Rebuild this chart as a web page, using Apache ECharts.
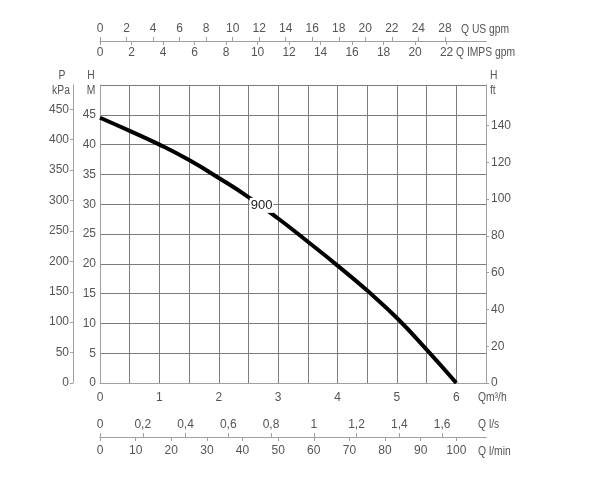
<!DOCTYPE html>
<html>
<head>
<meta charset="utf-8">
<script src="https://cdn.jsdelivr.net/npm/echarts@6/dist/echarts.min.js"></script>
<style>
  html, body { margin: 0; padding: 0; background: #fff; }
  #main { width: 592px; height: 480px; }
</style>
</head>
<body>
<div id="main"></div>
<script>
// 曲线数据 (Q m3/h -> H m)
var flow = [0, 0.5, 1, 1.5, 2, 2.5, 3, 3.5, 4, 4.5, 5, 5.5, 6];
var head = [44.5, 42.3, 40.0, 37.4, 34.4, 31.2, 27.6, 23.7, 19.7, 15.5, 10.9, 5.6, 0];
var curveName = '900';
var curveLabelAt = [2.72, 29.8];

// 刻度
var usGpmTicks = [0, 2, 4, 6, 8, 10, 12, 14, 16, 18, 20, 22, 24, 26];
var usGpmLabels = ['0', '2', '4', '6', '8', '10', '12', '14', '16', '18', '20', '22', '24', '28'];
var impGpmTicks = [0, 2, 4, 6, 8, 10, 12, 14, 16, 18, 20, 22];
var lsTicks = [0, 0.2, 0.4, 0.6, 0.8, 1, 1.2, 1.4, 1.6];
var lsLabels = ['0', '0,2', '0,4', '0,6', '0,8', '1', '1,2', '1,4', '1,6'];
var lminTicks = [0, 10, 20, 30, 40, 50, 60, 70, 80, 90, 100];
var ftTicks = [0, 20, 40, 60, 80, 100, 120, 140];

// 各单位刻度范围 (对应 0 ~ 6.5 m3/h, 0 ~ 50 m)
var qMax = 6.5, hMax = 50, kpaMax = 490, ftMax = 162;
var usMax = 29.1, impMax = 24.5, lsMax = 6.5 / 3.6, lminMax = 6.5 / 0.06;

var font = "'Liberation Sans', Arial, sans-serif";
var txt = '#555';
var gridColor = '#7c7c7c';
var lineColor = '#a0a0a0';

function pairs(a, b) {
    var out = [];
    for (var i = 0; i < a.length; i++) out.push([a[i], b[i]]);
    return out;
}

function lbl(extra) {
    var o = { color: txt, fontFamily: font, fontSize: 12 };
    for (var k in extra) o[k] = extra[k];
    return o;
}

function pick(ticks, labels) {
    return function(v) {
        for (var i = 0; i < ticks.length; i++) {
            if (Math.abs(ticks[i] - v) < 1e-6) return labels ? labels[i] : String(ticks[i]);
        }
        return '';
    };
}

// 副坐标轴 (只画线、刻度、文字)
function sideAxis(pos, offset, max, ticks, labels, inside, margin, tickLen) {
    return {
        type: 'value', position: pos, offset: offset, min: 0, max: max,
        axisLine: { show: true, onZero: false, lineStyle: { color: lineColor } },
        axisTick: { show: true, inside: inside, length: tickLen, customValues: ticks, lineStyle: { color: lineColor } },
        axisLabel: lbl({ inside: inside, margin: margin, customValues: ticks, formatter: pick(ticks, labels) }),
        splitLine: { show: false }
    };
}

// 单位文字 (窄体)
function unitText(x, y, text, align) {
    return {
        type: 'text', x: x, y: y, z: 20, scaleX: 0.86,
        style: { text: text, fill: txt, font: '12px ' + font, textAlign: align || 'left', textVerticalAlign: 'middle' }
    };
}

var chart = echarts.init(document.getElementById('main'));
var option = {
    backgroundColor: '#fff',
    animation: false,
    grid: { left: 100, right: 106, top: 85, bottom: 97, outerBoundsMode: 'none' },
    xAxis: [{
        // Q m3/h
        type: 'value', position: 'bottom', min: 0, max: qMax, interval: 0.5,
        axisLine: { onZero: false, lineStyle: { color: lineColor } },
        axisTick: { show: false },
        axisLabel: lbl({ margin: 9, formatter: function(v) { return v % 1 === 0 ? v : ''; } }),
        splitLine: { show: true, lineStyle: { color: gridColor, width: 1 } }
    },
        sideAxis('top', 44, usMax, usGpmTicks, usGpmLabels, false, 6, 4),
        sideAxis('top', 44, impMax, impGpmTicks, null, true, 6, 4),
        sideAxis('bottom', 54, lsMax, lsTicks, lsLabels, true, 6, 4),
        sideAxis('bottom', 54, lminMax, lminTicks, null, false, 8, 4)
    ],
    yAxis: [{
        // H m
        type: 'value', position: 'left', min: 0, max: hMax, interval: 5,
        axisLine: { show: true, onZero: false, lineStyle: { color: lineColor } },
        axisTick: { show: false },
        axisLabel: lbl({ margin: 4, showMaxLabel: false }),
        splitLine: { show: true, lineStyle: { color: gridColor, width: 1 } }
    }, {
        // P kPa
        type: 'value', position: 'left', offset: 27, min: 0, max: kpaMax, interval: 50,
        axisLine: { show: true, onZero: false, lineStyle: { color: lineColor } },
        axisTick: { show: true, length: 3, lineStyle: { color: lineColor } },
        axisLabel: lbl({ margin: 4, showMaxLabel: false }),
        splitLine: { show: false }
    },
        sideAxis('right', 0, ftMax, ftTicks, null, false, 5, 3)
    ],
    series: [{
        name: curveName,
        type: 'line',
        xAxisIndex: 0, yAxisIndex: 0,
        data: pairs(flow, head),
        smooth: 0.5,
        symbol: 'none',
        lineStyle: { color: '#000', width: 4 },
        z: 5,
        markPoint: {
            z: 10,
            symbol: 'rect', symbolSize: [1, 1],
            itemStyle: { color: 'rgba(0,0,0,0)' },
            label: {
                show: true, position: 'inside', formatter: curveName,
                color: '#222', fontFamily: font, fontSize: 13,
                backgroundColor: '#fff', padding: [1, 1]
            },
            data: [{ coord: curveLabelAt }]
        }
    }],
    graphic: [
        unitText(62, 76, 'P', 'center'),
        unitText(61, 91, 'kPa', 'center'),
        unitText(91, 76, 'H', 'center'),
        unitText(91, 91, 'M', 'center'),
        unitText(490, 76, 'H'),
        unitText(490, 91, 'ft'),
        unitText(461, 30, 'Q US gpm'),
        unitText(456, 53, 'Q IMPS gpm'),
        unitText(478, 398, 'Qm³/h'),
        unitText(478, 425, 'Q l/s'),
        unitText(478, 452, 'Q l/min')
    ]
};
chart.setOption(option);
</script>
</body>
</html>
